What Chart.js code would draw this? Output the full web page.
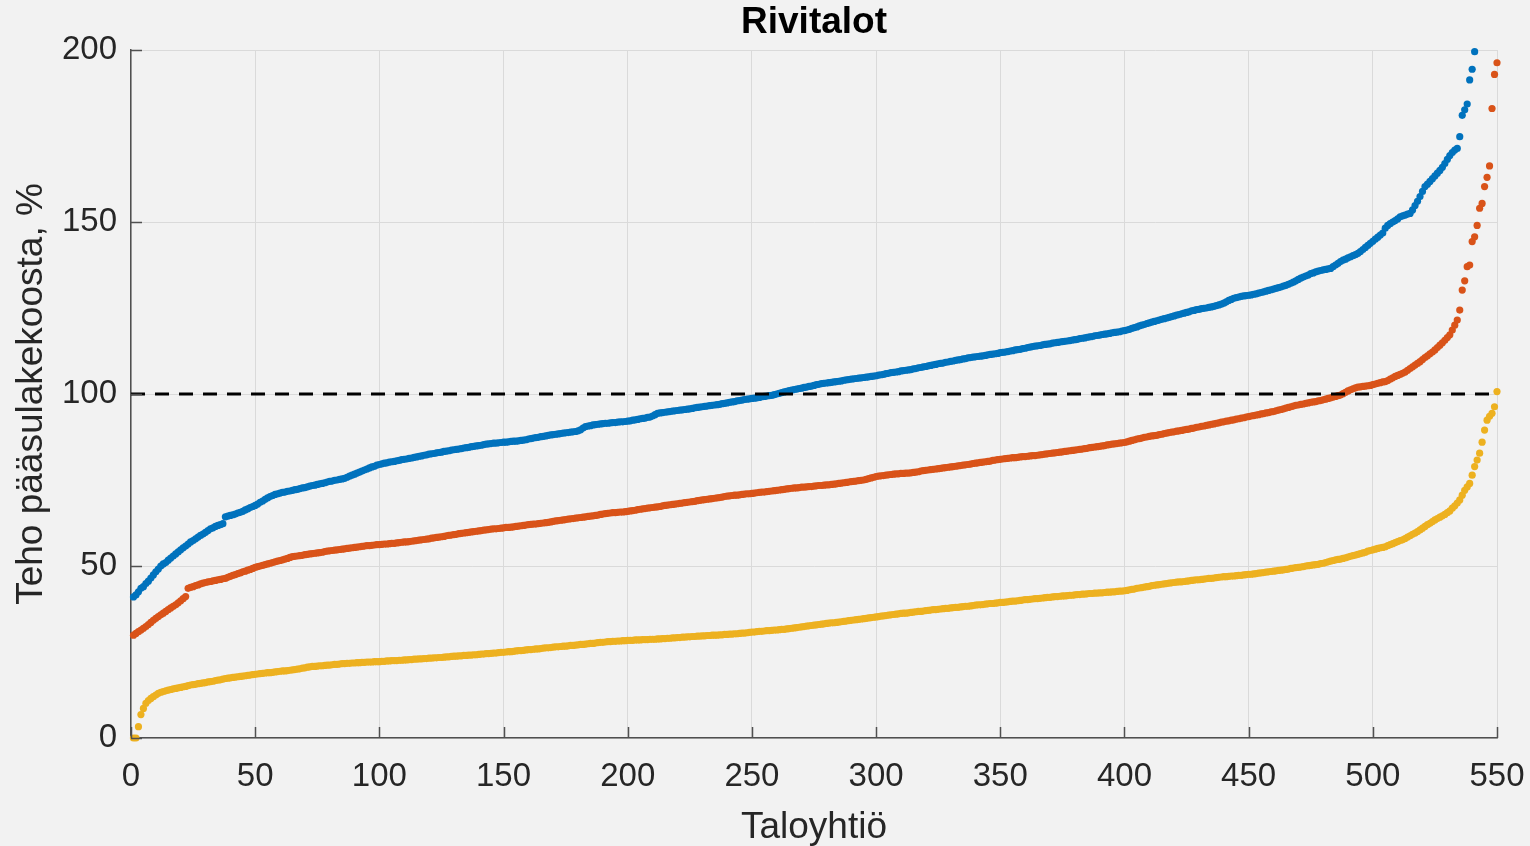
<!DOCTYPE html>
<html>
<head>
<meta charset="utf-8">
<title>Rivitalot</title>
<script src="https://cdn.jsdelivr.net/npm/chart.js@4.4.1/dist/chart.umd.min.js"></script>
<style>
  html, body { margin: 0; padding: 0; background: #f2f2f2; }
  #wrap { width: 1530px; height: 846px; }
</style>
</head>
<body>
<div id="wrap"><canvas id="chart" width="1530" height="846"></canvas></div>
<script>
// sorted per-company values, x = 1..N
const blueValues = [
  41.0, 41.6, 42.5, 43.5, 44.0, 44.9, 45.6, 46.5, 47.4, 48.3,
  49.1, 50.0, 50.6, 51.0, 51.7, 52.3, 52.9, 53.5, 54.1, 54.7,
  55.3, 55.8, 56.4, 57.0, 57.4, 57.9, 58.4, 58.9, 59.3, 59.8,
  60.3, 60.8, 61.1, 61.5, 61.8, 62.0, 62.3, 64.3, 64.5, 64.7,
  64.9, 65.1, 65.4, 65.6, 65.9, 66.3, 66.6, 67.0, 67.3, 67.6,
  68.0, 68.5, 68.9, 69.4, 69.8, 70.2, 70.5, 70.8, 71.0, 71.2,
  71.4, 71.5, 71.7, 71.8, 72.0, 72.2, 72.3, 72.5, 72.7, 72.8,
  73.0, 73.2, 73.4, 73.5, 73.7, 73.9, 74.0, 74.2, 74.4, 74.6,
  74.7, 74.9, 75.0, 75.2, 75.3, 75.5, 75.8, 76.1, 76.4, 76.7,
  77.0, 77.3, 77.6, 77.9, 78.2, 78.5, 78.8, 79.0, 79.3, 79.5,
  79.7, 79.9, 80.0, 80.2, 80.3, 80.4, 80.6, 80.7, 80.9, 81.0,
  81.1, 81.3, 81.4, 81.6, 81.7, 81.9, 82.0, 82.2, 82.3, 82.5,
  82.6, 82.7, 82.9, 83.0, 83.1, 83.3, 83.4, 83.5, 83.7, 83.8,
  83.9, 84.0, 84.1, 84.3, 84.4, 84.5, 84.7, 84.8, 84.9, 85.0,
  85.1, 85.3, 85.4, 85.5, 85.6, 85.7, 85.7, 85.8, 85.9, 86.0,
  86.0, 86.1, 86.2, 86.3, 86.3, 86.4, 86.5, 86.6, 86.7, 86.9,
  87.0, 87.2, 87.3, 87.4, 87.6, 87.7, 87.8, 88.0, 88.1, 88.2,
  88.3, 88.4, 88.5, 88.6, 88.7, 88.8, 88.9, 89.0, 89.1, 89.3,
  89.6, 90.1, 90.5, 90.7, 90.8, 91.0, 91.1, 91.2, 91.3, 91.4,
  91.5, 91.5, 91.6, 91.7, 91.7, 91.8, 91.9, 91.9, 92.0, 92.1,
  92.2, 92.4, 92.5, 92.6, 92.8, 92.9, 93.0, 93.2, 93.3, 93.6,
  94.0, 94.4, 94.5, 94.6, 94.7, 94.8, 94.9, 95.0, 95.1, 95.2,
  95.3, 95.4, 95.5, 95.6, 95.7, 95.8, 96.0, 96.1, 96.2, 96.3,
  96.4, 96.5, 96.6, 96.7, 96.8, 96.9, 97.0, 97.2, 97.3, 97.4,
  97.6, 97.7, 97.8, 98.0, 98.1, 98.2, 98.4, 98.5, 98.6, 98.7,
  98.8, 98.9, 99.0, 99.2, 99.3, 99.4, 99.5, 99.6, 99.8, 100.0,
  100.2, 100.4, 100.6, 100.8, 101.0, 101.1, 101.3, 101.4, 101.6, 101.7,
  101.9, 102.0, 102.2, 102.3, 102.5, 102.7, 102.8, 103.0, 103.1, 103.2,
  103.3, 103.4, 103.5, 103.6, 103.7, 103.8, 104.0, 104.1, 104.2, 104.3,
  104.4, 104.5, 104.6, 104.7, 104.8, 104.9, 105.0, 105.1, 105.2, 105.3,
  105.5, 105.6, 105.7, 105.9, 106.0, 106.2, 106.3, 106.4, 106.5, 106.7,
  106.8, 106.9, 107.0, 107.1, 107.3, 107.4, 107.6, 107.7, 107.9, 108.0,
  108.2, 108.3, 108.5, 108.6, 108.8, 108.9, 109.0, 109.2, 109.3, 109.5,
  109.6, 109.8, 109.9, 110.0, 110.2, 110.3, 110.5, 110.6, 110.7, 110.8,
  110.9, 111.0, 111.1, 111.2, 111.4, 111.5, 111.6, 111.7, 111.8, 112.0,
  112.1, 112.2, 112.3, 112.5, 112.6, 112.8, 112.9, 113.0, 113.2, 113.3,
  113.5, 113.6, 113.8, 113.9, 114.0, 114.1, 114.3, 114.4, 114.5, 114.6,
  114.8, 114.9, 115.0, 115.1, 115.2, 115.3, 115.4, 115.5, 115.7, 115.8,
  115.9, 116.1, 116.2, 116.3, 116.5, 116.6, 116.7, 116.9, 117.0, 117.1,
  117.3, 117.4, 117.5, 117.6, 117.8, 117.9, 118.0, 118.1, 118.3, 118.4,
  118.6, 118.8, 119.1, 119.3, 119.5, 119.8, 120.0, 120.2, 120.5, 120.7,
  120.9, 121.1, 121.3, 121.5, 121.7, 121.9, 122.1, 122.3, 122.5, 122.7,
  122.9, 123.1, 123.3, 123.5, 123.7, 123.9, 124.2, 124.3, 124.5, 124.6,
  124.8, 124.9, 125.0, 125.2, 125.3, 125.5, 125.7, 125.9, 126.1, 126.4,
  126.8, 127.2, 127.5, 127.8, 128.0, 128.2, 128.4, 128.5, 128.6, 128.7,
  128.8, 129.0, 129.1, 129.3, 129.5, 129.7, 129.9, 130.1, 130.3, 130.5,
  130.7, 130.9, 131.1, 131.4, 131.6, 131.9, 132.2, 132.5, 132.9, 133.3,
  133.7, 134.0, 134.3, 134.6, 135.0, 135.2, 135.5, 135.7, 135.9, 136.1,
  136.2, 136.4, 136.5, 137.0, 137.5, 138.0, 138.5, 138.9, 139.2, 139.6,
  139.9, 140.2, 140.5, 140.9, 141.4, 142.0, 142.6, 143.2, 143.8, 144.4,
  145.0, 145.6, 146.2, 146.8, 148.2, 149.0, 149.5, 150.0, 150.4, 150.9,
  151.5, 151.8, 152.0, 152.3, 152.5, 153.5, 154.8, 156.0, 157.4, 158.9,
  160.3, 161.0, 161.8, 162.6, 163.4, 164.2, 165.0, 165.9, 167.0, 168.2,
  169.3, 170.2, 170.9, 171.4, 174.8, 181.0, 182.6, 184.3, 191.3, 194.4,
  199.5
];

const redValues = [
  29.9, 30.4, 30.9, 31.4, 31.9, 32.4, 33.0, 33.6, 34.2, 34.8,
  35.3, 35.8, 36.3, 36.8, 37.3, 37.8, 38.3, 38.7, 39.3, 39.9,
  40.5, 41.1, 43.5, 43.8, 44.0, 44.3, 44.5, 44.8, 45.0, 45.2,
  45.4, 45.5, 45.7, 45.8, 46.0, 46.1, 46.3, 46.4, 46.7, 47.0,
  47.3, 47.5, 47.8, 48.0, 48.3, 48.5, 48.8, 49.0, 49.3, 49.6,
  49.8, 50.0, 50.2, 50.4, 50.6, 50.8, 51.0, 51.2, 51.4, 51.6,
  51.8, 52.0, 52.2, 52.5, 52.7, 52.8, 52.9, 53.0, 53.1, 53.3,
  53.4, 53.5, 53.6, 53.7, 53.8, 53.9, 54.0, 54.2, 54.3, 54.4,
  54.5, 54.6, 54.7, 54.8, 54.9, 55.0, 55.1, 55.2, 55.3, 55.4,
  55.5, 55.6, 55.7, 55.8, 55.9, 55.9, 56.0, 56.1, 56.2, 56.2,
  56.3, 56.4, 56.4, 56.5, 56.6, 56.6, 56.7, 56.8, 56.9, 57.0,
  57.0, 57.1, 57.2, 57.3, 57.4, 57.5, 57.6, 57.7, 57.8, 57.9,
  58.1, 58.2, 58.3, 58.4, 58.5, 58.6, 58.8, 58.9, 59.0, 59.1,
  59.2, 59.4, 59.5, 59.6, 59.7, 59.8, 59.9, 60.0, 60.1, 60.2,
  60.3, 60.4, 60.5, 60.6, 60.7, 60.8, 60.8, 60.9, 61.0, 61.1,
  61.2, 61.2, 61.3, 61.4, 61.5, 61.6, 61.7, 61.8, 61.9, 62.0,
  62.1, 62.2, 62.2, 62.3, 62.4, 62.5, 62.6, 62.7, 62.8, 63.0,
  63.1, 63.2, 63.3, 63.4, 63.5, 63.6, 63.7, 63.8, 63.9, 64.0,
  64.1, 64.2, 64.3, 64.4, 64.5, 64.6, 64.7, 64.8, 65.0, 65.1,
  65.2, 65.3, 65.4, 65.5, 65.5, 65.6, 65.7, 65.7, 65.8, 65.9,
  66.0, 66.1, 66.2, 66.4, 66.5, 66.6, 66.7, 66.8, 66.9, 67.0,
  67.1, 67.2, 67.3, 67.5, 67.6, 67.7, 67.8, 67.9, 68.0, 68.1,
  68.2, 68.3, 68.4, 68.5, 68.6, 68.7, 68.8, 69.0, 69.1, 69.2,
  69.3, 69.4, 69.5, 69.6, 69.7, 69.8, 69.9, 70.0, 70.2, 70.3,
  70.4, 70.5, 70.6, 70.6, 70.7, 70.8, 70.9, 71.0, 71.0, 71.1,
  71.2, 71.3, 71.4, 71.5, 71.5, 71.6, 71.7, 71.8, 71.9, 72.0,
  72.1, 72.2, 72.3, 72.4, 72.5, 72.6, 72.7, 72.7, 72.8, 72.9,
  72.9, 73.0, 73.1, 73.1, 73.2, 73.3, 73.4, 73.4, 73.5, 73.6,
  73.6, 73.7, 73.8, 73.9, 74.0, 74.1, 74.2, 74.3, 74.4, 74.5,
  74.6, 74.7, 74.8, 74.9, 75.0, 75.2, 75.4, 75.6, 75.8, 76.0,
  76.1, 76.2, 76.3, 76.4, 76.5, 76.6, 76.7, 76.8, 76.8, 76.9,
  76.9, 77.0, 77.0, 77.1, 77.2, 77.3, 77.4, 77.6, 77.7, 77.8,
  77.9, 78.0, 78.1, 78.2, 78.3, 78.4, 78.5, 78.6, 78.7, 78.8,
  78.9, 79.0, 79.1, 79.2, 79.3, 79.4, 79.5, 79.6, 79.8, 79.9,
  80.0, 80.1, 80.2, 80.3, 80.4, 80.5, 80.7, 80.8, 80.9, 81.0,
  81.1, 81.2, 81.3, 81.4, 81.5, 81.5, 81.6, 81.7, 81.8, 81.8,
  81.9, 82.0, 82.1, 82.1, 82.2, 82.3, 82.4, 82.5, 82.6, 82.7,
  82.8, 82.9, 83.0, 83.1, 83.2, 83.3, 83.4, 83.5, 83.6, 83.7,
  83.8, 83.9, 84.0, 84.1, 84.2, 84.4, 84.5, 84.6, 84.7, 84.8,
  84.9, 85.0, 85.2, 85.3, 85.4, 85.5, 85.6, 85.7, 85.8, 85.9,
  86.1, 86.3, 86.5, 86.7, 86.9, 87.0, 87.2, 87.4, 87.5, 87.7,
  87.8, 87.9, 88.0, 88.2, 88.3, 88.5, 88.6, 88.8, 88.9, 89.0,
  89.2, 89.3, 89.4, 89.6, 89.7, 89.8, 90.0, 90.1, 90.3, 90.4,
  90.6, 90.7, 90.9, 91.0, 91.2, 91.3, 91.5, 91.6, 91.8, 91.9,
  92.1, 92.2, 92.4, 92.5, 92.7, 92.8, 93.0, 93.1, 93.3, 93.4,
  93.6, 93.7, 93.9, 94.0, 94.2, 94.3, 94.5, 94.6, 94.8, 94.9,
  95.1, 95.3, 95.5, 95.7, 95.9, 96.1, 96.3, 96.5, 96.7, 96.8,
  97.0, 97.1, 97.3, 97.4, 97.6, 97.7, 97.8, 98.0, 98.1, 98.3,
  98.5, 98.7, 98.9, 99.1, 99.3, 99.5, 99.7, 100.1, 100.5, 100.9,
  101.2, 101.5, 101.8, 102.0, 102.1, 102.2, 102.3, 102.4, 102.5, 102.7,
  102.9, 103.1, 103.3, 103.5, 103.6, 103.9, 104.3, 104.7, 105.1, 105.4,
  105.7, 106.0, 106.4, 106.9, 107.4, 107.9, 108.4, 108.9, 109.4, 110.0,
  110.6, 111.1, 111.7, 112.2, 112.8, 113.5, 114.2, 114.9, 115.6, 116.4,
  117.2, 118.6, 120.0, 121.5, 124.4, 130.2, 132.9, 137.0, 137.5, 144.3,
  145.7, 149.0, 154.0, 155.4, 160.3, 163.0, 166.3, 183.0, 192.9, 196.3
];

const yellowValues = [
  0.0, 0.0, 3.3, 6.8, 8.6, 10.1, 10.9, 11.5, 12.0, 12.5,
  13.0, 13.3, 13.5, 13.7, 13.9, 14.1, 14.3, 14.4, 14.6, 14.7,
  14.9, 15.0, 15.2, 15.4, 15.5, 15.6, 15.8, 15.9, 16.0, 16.1,
  16.3, 16.4, 16.5, 16.7, 16.8, 16.9, 17.1, 17.3, 17.4, 17.5,
  17.6, 17.7, 17.8, 17.9, 18.0, 18.1, 18.2, 18.3, 18.4, 18.5,
  18.6, 18.7, 18.8, 18.9, 19.0, 19.0, 19.1, 19.2, 19.3, 19.4,
  19.5, 19.5, 19.6, 19.7, 19.8, 19.9, 20.0, 20.1, 20.3, 20.4,
  20.6, 20.7, 20.8, 20.8, 20.9, 21.0, 21.0, 21.1, 21.2, 21.2,
  21.3, 21.4, 21.4, 21.5, 21.6, 21.6, 21.7, 21.7, 21.8, 21.8,
  21.9, 21.9, 22.0, 22.0, 22.1, 22.1, 22.1, 22.2, 22.2, 22.2,
  22.3, 22.3, 22.4, 22.4, 22.5, 22.5, 22.5, 22.6, 22.6, 22.7,
  22.7, 22.8, 22.8, 22.9, 22.9, 23.0, 23.0, 23.1, 23.1, 23.2,
  23.2, 23.3, 23.3, 23.4, 23.4, 23.5, 23.6, 23.6, 23.7, 23.8,
  23.8, 23.9, 23.9, 24.0, 24.0, 24.1, 24.1, 24.2, 24.2, 24.3,
  24.4, 24.4, 24.5, 24.5, 24.6, 24.7, 24.7, 24.8, 24.9, 24.9,
  25.0, 25.1, 25.1, 25.2, 25.3, 25.4, 25.4, 25.5, 25.6, 25.7,
  25.7, 25.8, 25.9, 25.9, 26.0, 26.1, 26.2, 26.2, 26.3, 26.4,
  26.5, 26.5, 26.6, 26.7, 26.7, 26.8, 26.9, 26.9, 27.0, 27.1,
  27.2, 27.2, 27.3, 27.4, 27.5, 27.5, 27.6, 27.7, 27.8, 27.8,
  27.9, 28.0, 28.0, 28.1, 28.1, 28.2, 28.2, 28.3, 28.3, 28.4,
  28.4, 28.4, 28.5, 28.5, 28.5, 28.6, 28.6, 28.6, 28.7, 28.7,
  28.7, 28.8, 28.8, 28.9, 28.9, 29.0, 29.0, 29.1, 29.1, 29.2,
  29.2, 29.3, 29.3, 29.4, 29.4, 29.5, 29.5, 29.6, 29.6, 29.7,
  29.7, 29.8, 29.8, 29.9, 29.9, 29.9, 30.0, 30.0, 30.1, 30.1,
  30.2, 30.2, 30.3, 30.3, 30.4, 30.5, 30.5, 30.6, 30.7, 30.8,
  30.8, 30.9, 31.0, 31.0, 31.1, 31.2, 31.2, 31.3, 31.4, 31.4,
  31.5, 31.6, 31.6, 31.7, 31.8, 31.9, 32.0, 32.1, 32.2, 32.3,
  32.4, 32.5, 32.6, 32.7, 32.8, 32.9, 33.0, 33.1, 33.2, 33.3,
  33.4, 33.5, 33.5, 33.6, 33.7, 33.8, 33.9, 34.0, 34.1, 34.2,
  34.3, 34.4, 34.5, 34.6, 34.7, 34.8, 34.9, 35.0, 35.1, 35.2,
  35.3, 35.4, 35.5, 35.6, 35.7, 35.8, 35.9, 36.0, 36.1, 36.2,
  36.3, 36.3, 36.4, 36.5, 36.6, 36.7, 36.8, 36.8, 36.9, 37.0,
  37.1, 37.2, 37.3, 37.3, 37.4, 37.5, 37.6, 37.7, 37.7, 37.8,
  37.9, 38.0, 38.0, 38.1, 38.2, 38.3, 38.3, 38.4, 38.5, 38.6,
  38.7, 38.7, 38.8, 38.9, 39.0, 39.1, 39.1, 39.2, 39.3, 39.4,
  39.4, 39.5, 39.6, 39.7, 39.8, 39.8, 39.9, 40.0, 40.1, 40.2,
  40.2, 40.3, 40.4, 40.5, 40.5, 40.6, 40.7, 40.8, 40.9, 40.9,
  41.0, 41.1, 41.1, 41.2, 41.3, 41.3, 41.4, 41.5, 41.5, 41.6,
  41.7, 41.7, 41.8, 41.8, 41.9, 42.0, 42.0, 42.1, 42.1, 42.2,
  42.2, 42.3, 42.4, 42.4, 42.5, 42.5, 42.6, 42.7, 42.7, 42.8,
  42.9, 43.1, 43.2, 43.3, 43.5, 43.6, 43.7, 43.9, 44.0, 44.1,
  44.3, 44.4, 44.5, 44.6, 44.7, 44.8, 44.9, 45.0, 45.1, 45.2,
  45.3, 45.4, 45.4, 45.5, 45.6, 45.7, 45.8, 45.9, 46.0, 46.0,
  46.1, 46.2, 46.3, 46.4, 46.4, 46.5, 46.6, 46.7, 46.8, 46.9,
  46.9, 47.0, 47.1, 47.1, 47.2, 47.3, 47.3, 47.4, 47.5, 47.6,
  47.6, 47.7, 47.8, 47.9, 48.0, 48.1, 48.2, 48.3, 48.4, 48.5,
  48.6, 48.7, 48.8, 48.9, 49.0, 49.1, 49.3, 49.4, 49.5, 49.6,
  49.7, 49.8, 50.0, 50.1, 50.2, 50.3, 50.4, 50.5, 50.7, 50.8,
  51.0, 51.2, 51.4, 51.6, 51.8, 51.9, 52.0, 52.2, 52.4, 52.6,
  52.8, 53.0, 53.2, 53.4, 53.6, 53.8, 54.0, 54.3, 54.5, 54.7,
  54.9, 55.1, 55.3, 55.4, 55.6, 55.9, 56.2, 56.5, 56.8, 57.1,
  57.4, 57.6, 58.0, 58.4, 58.8, 59.2, 59.6, 60.0, 60.5, 61.0,
  61.5, 62.0, 62.4, 62.9, 63.4, 63.8, 64.2, 64.6, 65.0, 65.5,
  66.0, 66.8, 67.5, 68.3, 69.2, 70.6, 72.0, 73.0, 74.0, 76.4,
  78.9, 80.8, 82.8, 86.0, 89.5, 92.4, 93.5, 94.4, 96.3, 100.7
];

const limitLine = [100, 100];
const limitX = [0, 550];
const xTickValues = [0, 50, 100, 150, 200, 250, 300, 350, 400, 450, 500, 550];
const yTickValues = [0, 50, 100, 150, 200];

const FONT = '"Liberation Sans", Arial, Helvetica, sans-serif';
const AXIS_COLOR = "#505050";
const TEXT_COLOR = "#262626";
const DOT = 3.6;

const toPoints = (values) => values.map((v, i) => ({ x: i + 1, y: v }));

// page background everywhere (figure and axes share the grey)
const background = {
  id: "background",
  beforeDraw(chart) {
    const { ctx, width, height } = chart;
    ctx.save();
    ctx.fillStyle = "#f2f2f2";
    ctx.fillRect(0, 0, width, height);
    ctx.restore();
  },
};

// MATLAB-style tick marks pointing into the axes
const innerTicks = {
  id: "innerTicks",
  afterDatasetsDraw(chart) {
    const { ctx, chartArea, scales } = chart;
    ctx.save();
    ctx.strokeStyle = AXIS_COLOR;
    ctx.lineWidth = 1.5;
    ctx.beginPath();
    xTickValues.forEach((v) => {
      const px = Math.round(scales.x.getPixelForValue(v)) + 0.5;
      ctx.moveTo(px, chartArea.bottom);
      ctx.lineTo(px, chartArea.bottom - 11);
    });
    yTickValues.forEach((v) => {
      const py = Math.round(scales.y.getPixelForValue(v)) + 0.5;
      ctx.moveTo(chartArea.left, py);
      ctx.lineTo(chartArea.left + 11, py);
    });
    ctx.stroke();
    ctx.restore();
  },
};

const ctx = document.getElementById("chart");

new Chart(ctx, {
  type: "scatter",
  data: {
    datasets: [
      {
        label: "100 %",
        data: limitX.map((x, i) => ({ x: x, y: limitLine[i] })),
        showLine: true,
        borderColor: "#000000",
        borderWidth: 3,
        borderDash: [14, 10],
        pointRadius: 0,
        order: 0,
      },
      {
        label: "A",
        data: toPoints(blueValues),
        backgroundColor: "#0072BD",
        borderColor: "#0072BD",
        borderWidth: 0,
        pointRadius: DOT,
        order: 1,
        clip: 6,
      },
      {
        label: "B",
        data: toPoints(redValues),
        backgroundColor: "#D95319",
        borderColor: "#D95319",
        borderWidth: 0,
        pointRadius: DOT,
        order: 1,
        clip: 6,
      },
      {
        label: "C",
        data: toPoints(yellowValues),
        backgroundColor: "#EDB120",
        borderColor: "#EDB120",
        borderWidth: 0,
        pointRadius: DOT,
        order: 1,
        clip: 6,
      },
    ],
  },
  options: {
    responsive: false,
    animation: false,
    layout: {
      padding: { left: 0, right: 33, top: 0, bottom: 0 },
    },
    scales: {
      x: {
        type: "linear",
        min: 0,
        max: 550,
        afterBuildTicks: (scale) => {
          scale.ticks = xTickValues.map((v) => ({ value: v }));
        },
        afterFit: (scale) => {
          scale.height = 108;
          scale.paddingLeft = 0;
          scale.paddingRight = 0;
        },
        grid: {
          color: "#dadada",
          lineWidth: 1,
          drawTicks: false,
        },
        border: { display: true, color: AXIS_COLOR, width: 1.5 },
        ticks: {
          autoSkip: false,
          maxRotation: 0,
          padding: 19,
          color: TEXT_COLOR,
          font: { family: FONT, size: 33 },
        },
        title: {
          display: true,
          text: "Taloyhtiö",
          color: TEXT_COLOR,
          font: { family: FONT, size: 37, lineHeight: 1.0 },
          padding: { top: 2, bottom: 0 },
        },
      },
      y: {
        type: "linear",
        min: 0,
        max: 200,
        afterBuildTicks: (scale) => {
          scale.ticks = yTickValues.map((v) => ({ value: v }));
        },
        afterFit: (scale) => {
          scale.width = 131;
          scale.paddingTop = 0;
          scale.paddingBottom = 0;
        },
        grid: {
          color: "#dadada",
          lineWidth: 1,
          drawTicks: false,
        },
        border: { display: true, color: AXIS_COLOR, width: 1.5 },
        ticks: {
          padding: 14,
          color: TEXT_COLOR,
          font: { family: FONT, size: 33 },
        },
        title: {
          display: true,
          text: "Teho pääsulakekoosta, %",
          color: TEXT_COLOR,
          font: { family: FONT, size: 37, lineHeight: 1.0 },
          padding: { top: 13, bottom: 0 },
        },
      },
    },
    plugins: {
      legend: { display: false },
      tooltip: { enabled: false },
      title: {
        display: true,
        fullSize: false,
        text: "Rivitalot",
        color: "#000000",
        font: { family: FONT, size: 37, weight: "bold", lineHeight: 1.0 },
        padding: { top: 4, bottom: 9 },
      },
    },
  },
  plugins: [background, innerTicks],
});
</script>
</body>
</html>
